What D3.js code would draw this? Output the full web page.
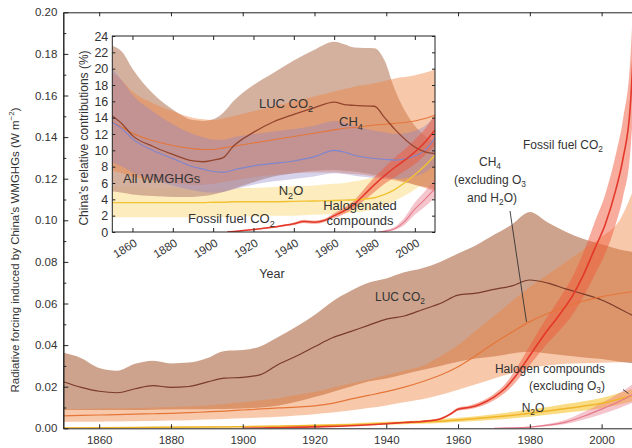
<!DOCTYPE html>
<html>
<head>
<meta charset="utf-8">
<script src="https://cdn.jsdelivr.net/npm/d3@7"></script>
<style>
  body { margin: 0; background: #fff; }
  svg { display: block; font-family: "Liberation Sans", Arial, sans-serif; }
</style>
</head>
<body>
<script>
// ---------- main panel data (W m-2) ----------
const mainYears = [1850,1855,1860,1865,1870,1875,1880,1885,1890,1895,1900,1905,1910,1915,1920,1925,1930,
                   1935,1940,1945,1950,1955,1960,1965,1970,1975,1980,1985,1990,1995,2000,2005,2010];
const lucMid = [.0224,.0197,.0178,.0171,.0190,.0205,.0197,.0201,.0222,.0241,.0245,.0258,.0308,.0348,.0392,.0435,.0465,
                .0495,.0525,.0540,.0570,.0600,.0640,.0650,.0668,.0685,.0713,.0698,.0670,.0645,.0617,.0575,.0530];
const lucLo  = [.0088,.0088,.0088,.0088,.0088,.0089,.0090,.0091,.0092,.0093,.0095,.0100,.0110,.0128,.0150,.0175,.0200,
                .0225,.0240,.0260,.0280,.0300,.0320,.0335,.0345,.0360,.0368,.0360,.0350,.0340,.0333,.0320,.0310];
const lucHi  = [.0364,.0337,.0290,.0277,.0310,.0325,.0312,.0316,.0337,.0372,.0376,.0395,.0440,.0490,.0545,.0610,.0660,
                .0700,.0720,.0750,.0770,.0800,.0840,.0880,.0930,.0980,.1040,.0990,.0945,.0910,.0885,.0860,.0845];
const ch4Mid = [.0060,.0062,.0064,.0066,.0068,.0070,.0072,.0075,.0079,.0083,.0088,.0093,.0098,.0102,.0108,.0120,.0140,
                .0158,.0176,.0198,.0224,.0255,.0296,.0350,.0409,.0462,.0513,.0552,.0585,.0612,.0633,.0648,.0660];
const ch4Lo  = [.0030,.0031,.0032,.0033,.0034,.0035,.0037,.0039,.0042,.0045,.0048,.0052,.0056,.0062,.0068,.0076,.0085,
                .0097,.0110,.0125,.0140,.0160,.0185,.0212,.0240,.0265,.0290,.0302,.0310,.0313,.0315,.0318,.0320];
const ch4Hi  = [.0092,.0093,.0095,.0096,.0098,.0100,.0102,.0106,.0110,.0117,.0125,.0135,.0145,.0160,.0175,.0195,.0215,
                .0235,.0255,.0278,.0300,.0345,.0400,.0470,.0540,.0610,.0680,.0740,.0800,.0860,.0920,.1000,.1200];

const ffYears = [1900,1905,1910,1920,1930,1940,1945,1950,1955,1958,1960,1963,1966,1970,1973,1976,1980,1984,
                 1988,1992,1995,1998,2001,2004,2006,2008,2009,2010];
const ffMid = [0,.0001,.0003,.0007,.0012,.0022,.0028,.0033,.0045,.0070,.0092,.0100,.0115,.0150,.0190,.0250,.0350,.0450,
               .0540,.0640,.0740,.0860,.0980,.1150,.1300,.1550,.1900,.2500];
const ffLo  = [0,.0001,.0002,.0006,.0011,.0020,.0026,.0030,.0041,.0064,.0084,.0091,.0104,.0135,.0170,.0220,.0305,.0390,
               .0465,.0550,.0635,.0735,.0840,.0985,.1115,.1330,.1630,.2150];
const ffHi  = [0,.0002,.0004,.0008,.0013,.0024,.0030,.0036,.0049,.0076,.0100,.0109,.0126,.0165,.0210,.0282,.0397,.0512,
               .0617,.0732,.0848,.0987,.1124,.1320,.1490,.1775,.2180,.2870];

const n2oYears = [1850,1870,1890,1900,1910,1920,1930,1940,1950,1960,1970,1980,1990,2000,2010];
const n2oMid = [.0002,.0004,.0006,.0008,.0010,.0013,.0017,.0024,.0030,.0040,.0054,.0072,.0095,.0120,.0165];
const n2oLo  = [.0001,.0002,.0004,.0005,.0007,.0009,.0012,.0017,.0022,.0030,.0041,.0056,.0075,.0096,.0135];
const n2oHi  = [.0004,.0006,.0009,.0011,.0014,.0018,.0023,.0031,.0039,.0051,.0068,.0090,.0117,.0146,.0198];

const halYears = [1970,1975,1980,1985,1990,1995,2000,2005,2010];
const halMid = [0,.0002,.0006,.0015,.0030,.0058,.0092,.0130,.0175];
const halLo  = [0,.0001,.0004,.0010,.0021,.0042,.0068,.0098,.0133];
const halHi  = [0,.0003,.0009,.0021,.0041,.0078,.0122,.0170,.0228];

// ---------- inset data (% of global) ----------
const inYears = [1850,1855,1860,1870,1880,1890,1895,1900,1905,1910,1920,1930,1940,1950,1960,1965,1970,1980,1985,1990,2000,2005,2010];
const inLucMid = [14.2,13.2,11.8,10.5,9.5,8.7,8.6,8.8,9.1,10.5,12.2,13.5,14.4,15.2,15.9,15.6,15.5,15.4,14.0,12.6,10.4,9.8,9.6];
const inLucHi  = [22.8,22.0,20.0,17.0,15.0,13.7,13.6,13.8,14.6,16.0,18.0,19.5,21.0,22.3,23.3,23.0,22.6,22.5,21.0,17.5,13.0,11.8,11.0];
const inLucLo  = [5.0,4.8,4.6,4.4,4.3,4.3,4.4,4.6,4.9,5.3,6.1,6.8,7.2,7.5,7.6,7.5,7.4,7.0,6.8,6.5,5.8,5.5,5.2];
const inCh4Mid = [13.5,12.8,12.1,11.2,10.6,10.2,10.1,10.1,10.3,10.5,10.9,11.3,11.7,12.1,12.5,12.7,12.8,13.1,13.2,13.3,13.6,13.9,14.3];
const inCh4Hi  = [19.5,18.5,17.2,15.8,14.8,14.0,13.8,13.7,13.9,14.2,14.8,15.4,16.0,16.6,17.2,17.5,17.8,18.2,18.5,18.8,19.2,19.5,19.9];
const inCh4Lo  = [7.5,7.2,6.8,6.3,6.0,5.8,5.8,5.9,6.1,6.3,6.7,7.0,7.2,7.3,7.3,7.2,7.1,6.8,6.6,6.3,5.8,5.4,5.0];
const inAllMid = [13.4,12.6,11.4,10.0,9.0,8.0,7.7,7.4,7.3,7.6,8.1,8.4,8.7,9.2,10.0,9.8,9.4,9.0,8.9,8.8,9.3,10.0,11.5];
const inAllHi  = [20.0,18.5,16.8,14.8,13.2,12.0,11.6,11.3,11.3,11.6,12.0,12.3,12.6,13.0,13.6,13.4,13.0,12.4,12.2,12.0,12.4,13.0,14.2];
const inAllLo  = [8.5,8.0,7.3,6.4,5.7,5.1,4.9,4.8,4.9,5.2,5.8,6.2,6.5,6.8,7.2,7.1,6.9,6.6,6.5,6.5,6.8,7.3,8.2];
const inN2oMid = [3.6,3.6,3.6,3.6,3.6,3.6,3.6,3.65,3.65,3.7,3.7,3.7,3.75,3.8,3.85,3.9,3.95,4.2,4.6,5.2,7.0,8.1,9.4];
const inN2oHi  = [5.6,5.5,5.5,5.4,5.4,5.3,5.3,5.3,5.3,5.4,5.4,5.5,5.6,5.7,5.9,6.0,6.2,6.8,7.4,8.1,9.6,10.5,11.5];
const inN2oLo  = [1.8,1.8,1.8,1.8,1.8,1.8,1.8,1.8,1.8,1.9,1.9,2.0,2.0,2.1,2.2,2.3,2.4,2.8,3.2,3.8,5.2,6.1,7.2];

const inFfYears = [1907,1910,1920,1930,1940,1945,1950,1955,1960,1965,1970,1975,1980,1985,1990,1995,2000,2005,2010];
const inFfMid = [0,0.05,0.3,0.6,1.0,1.3,1.2,1.4,2.0,2.6,3.4,4.6,5.8,6.9,7.9,8.8,9.8,11.0,12.5];
const inFfLo  = [0,0.03,0.25,0.5,0.85,1.1,1.0,1.2,1.7,2.2,2.9,3.9,4.9,5.9,6.7,7.5,8.3,9.4,10.6];
const inFfHi  = [0,0.07,0.35,0.7,1.15,1.5,1.4,1.6,2.3,3.0,3.9,5.3,6.7,7.9,9.1,10.1,11.3,12.6,14.4];

const inHalYears = [1982,1985,1990,1995,2000,2005,2010];
const inHalMid = [0,0.1,0.4,1.3,2.8,4.0,5.3];
const inHalLo  = [0,0.05,0.25,0.9,2.1,3.1,4.2];
const inHalHi  = [0,0.2,0.6,1.8,3.6,5.0,6.5];

const mainXTicks = [1860,1880,1900,1920,1940,1960,1980,2000];
const mainYTicks = [0,0.02,0.04,0.06,0.08,0.10,0.12,0.14,0.16,0.18,0.20];
const inYTicks = [0,2,4,6,8,10,12,14,16,18,20,22,24];

// ---------- set up ----------
const W = 632, H = 448;
const svg = d3.select("body").append("svg").attr("width", W).attr("height", H);

const mx = d3.scaleLinear().domain([1850, 2010]).range([63.3, 637.5]);
const my = d3.scaleLinear().domain([0, 0.2]).range([428.3, 12.3]);
const ix = d3.scaleLinear().domain([1850, 2010]).range([112.3, 435]);
const iy = d3.scaleLinear().domain([0, 24]).range([232, 36]);

const zip = (ys, mid, lo, hi) => ys.map((yr, i) => ({yr, mid: mid[i], lo: lo[i], hi: hi[i]}));

const defs = svg.append("defs");
defs.append("clipPath").attr("id", "clipMain").append("rect")
  .attr("x", mx.range()[0]).attr("y", my.range()[1])
  .attr("width", mx.range()[1] - mx.range()[0]).attr("height", my.range()[0] - my.range()[1]);
defs.append("clipPath").attr("id", "clipIn").append("rect")
  .attr("x", ix.range()[0]).attr("y", iy.range()[1])
  .attr("width", ix.range()[1] - ix.range()[0]).attr("height", iy.range()[0] - iy.range()[1]);

function drawBand(g, x, y, data, fill, op) {
  g.append("path").datum(data)
    .attr("fill", fill).attr("fill-opacity", op)
    .attr("d", d3.area().x(d => x(d.yr)).y0(d => y(d.lo)).y1(d => y(d.hi)).curve(d3.curveMonotoneX));
}
function drawLine(g, x, y, data, stroke, w) {
  g.append("path").datum(data)
    .attr("fill", "none").attr("stroke", stroke).attr("stroke-width", w)
    .attr("d", d3.line().x(d => x(d.yr)).y(d => y(d.mid)).curve(d3.curveMonotoneX));
}
// text with sub/superscripts: parts = [[text, ""|"sub"|"sup"], ...]
function rich(g, x, y, parts, size, anchor) {
  const t = g.append("text").attr("x", x).attr("y", y)
    .attr("text-anchor", anchor || "start")
    .style("font-size", size + "px").attr("fill", "#333");
  let shift = 0;
  parts.forEach(([s, k]) => {
    const target = k === "sub" ? 0.28 * size : k === "sup" ? -0.4 * size : 0;
    t.append("tspan").attr("dy", target - shift)
      .style("font-size", k ? (0.7 * size) + "px" : null).text(s);
    shift = target;
  });
  return t;
}

// ---------- main panel ----------
const luc = zip(mainYears, lucMid, lucLo, lucHi);
const ch4 = zip(mainYears, ch4Mid, ch4Lo, ch4Hi);
const ff = zip(ffYears, ffMid, ffLo, ffHi);
const n2o = zip(n2oYears, n2oMid, n2oLo, n2oHi);
const hal = zip(halYears, halMid, halLo, halHi);

const gm = svg.append("g").attr("clip-path", "url(#clipMain)");
drawBand(gm, mx, my, luc, "rgb(205,163,141)", 1);
drawBand(gm, mx, my, ch4, "rgb(239,133,66)", 0.45);
drawBand(gm, mx, my, n2o, "rgb(248,205,80)", 0.7);
drawBand(gm, mx, my, hal, "rgb(230,110,130)", 0.4);
drawBand(gm, mx, my, ff, "rgb(240,90,60)", 0.5);
drawLine(gm, mx, my, luc, "#7a3b2b", 1.2);
drawLine(gm, mx, my, ch4, "#e5763a", 1.2);
drawLine(gm, mx, my, n2o, "#f0b52a", 1.5);
drawLine(gm, mx, my, hal, "#e57a8a", 1.2);
drawLine(gm, mx, my, ff, "#e3382a", 1.6);

// main axes
const axisStyle = sel => {
  sel.selectAll("path, line").attr("stroke", "#222");
  sel.selectAll("text").attr("fill", "#333").style("font-size", "11.5px")
    .style("font-family", "Liberation Sans, Arial, sans-serif");
};
svg.append("g").attr("transform", `translate(0,${my(0)})`)
  .call(d3.axisBottom(mx).tickValues(mainXTicks).tickFormat(d3.format("d"))
    .tickSize(-4).tickSizeOuter(0).tickPadding(8))
  .call(axisStyle);
svg.append("g").attr("transform", `translate(0,${my(0.2)})`)
  .call(d3.axisTop(mx).tickValues(mainXTicks).tickFormat("").tickSize(-4).tickSizeOuter(0))
  .call(axisStyle);
svg.append("g").attr("transform", `translate(${mx(1850)},0)`)
  .call(d3.axisLeft(my).tickValues(mainYTicks).tickFormat(d3.format(".2f"))
    .tickSize(-5).tickSizeOuter(0).tickPadding(6))
  .call(axisStyle);
svg.append("g").attr("transform", `translate(${mx(1850)},0)`)
  .call(d3.axisLeft(my).tickValues(d3.range(0.01, 0.2, 0.02)).tickFormat("")
    .tickSize(-3).tickSizeOuter(0))
  .call(axisStyle);

// main y label
rich(svg, 0, 0, [["Radiative forcing induced by China\u2019s WMGHGs (W m", ""], ["\u22122", "sup"], [")", ""]], 11.5, "middle")
  .attr("transform", "translate(19,250) rotate(-90)");

// main annotations
rich(svg, 400, 301, [["LUC CO", ""], ["2", "sub"]], 12, "middle");
rich(svg, 563, 149, [["Fossil fuel CO", ""], ["2", "sub"]], 12, "middle");
rich(svg, 490, 166, [["CH", ""], ["4", "sub"]], 12, "middle");
rich(svg, 490, 184, [["(excluding O", ""], ["3", "sub"]], 12, "middle");
rich(svg, 492, 202, [["and H", ""], ["2", "sub"], ["O)", ""]], 12, "middle");
rich(svg, 605, 373, [["Halogen compounds", ""]], 12, "end");
rich(svg, 605, 390, [["(excluding O", ""], ["3", "sub"], [")", ""]], 12, "end");
rich(svg, 533, 412, [["N", ""], ["2", "sub"], ["O", ""]], 12, "middle");
svg.append("line").attr("x1", 510).attr("y1", 211).attr("x2", 526.5).attr("y2", 322)
  .attr("stroke", "#333").attr("stroke-width", 0.9);
svg.append("line").attr("x1", 623).attr("y1", 389.5).attr("x2", 628.5).attr("y2", 393.5)
  .attr("stroke", "#333").attr("stroke-width", 0.9);

// ---------- inset ----------
svg.append("rect").attr("x", ix.range()[0]).attr("y", iy.range()[1])
  .attr("width", ix.range()[1] - ix.range()[0]).attr("height", iy.range()[0] - iy.range()[1])
  .attr("fill", "#fff");

const iLuc = zip(inYears, inLucMid, inLucLo, inLucHi);
const iCh4 = zip(inYears, inCh4Mid, inCh4Lo, inCh4Hi);
const iAll = zip(inYears, inAllMid, inAllLo, inAllHi);
const iN2o = zip(inYears, inN2oMid, inN2oLo, inN2oHi);
const iFf = zip(inFfYears, inFfMid, inFfLo, inFfHi);
const iHal = zip(inHalYears, inHalMid, inHalLo, inHalHi);

const gi = svg.append("g").attr("clip-path", "url(#clipIn)");
drawBand(gi, ix, iy, iN2o, "rgb(250,212,100)", 0.42);
drawBand(gi, ix, iy, iLuc, "rgb(205,163,141)", 0.85);
drawBand(gi, ix, iy, iCh4, "rgb(239,133,66)", 0.45);
drawBand(gi, ix, iy, iAll, "rgb(140,125,200)", 0.35);
drawBand(gi, ix, iy, iHal, "rgb(230,110,130)", 0.4);
drawBand(gi, ix, iy, iFf, "rgb(240,90,60)", 0.5);
drawLine(gi, ix, iy, iN2o, "#f2c232", 1.4);
drawLine(gi, ix, iy, iCh4, "#e5763a", 1.1);
drawLine(gi, ix, iy, iAll, "#7d86cf", 1.1);
drawLine(gi, ix, iy, iLuc, "#93452e", 1.3);
drawLine(gi, ix, iy, iHal, "#e57a8a", 1.1);
drawLine(gi, ix, iy, iFf, "#e3382a", 1.5);

svg.append("rect").attr("x", ix.range()[0]).attr("y", iy.range()[1])
  .attr("width", ix.range()[1] - ix.range()[0]).attr("height", iy.range()[0] - iy.range()[1])
  .attr("fill", "none").attr("stroke", "#222").attr("stroke-width", 1);

const inXAxis = svg.append("g").attr("transform", `translate(0,${iy(0)})`)
  .call(d3.axisBottom(ix).tickValues(mainXTicks).tickFormat(d3.format("d")).tickSize(-4).tickSizeOuter(0))
  .call(axisStyle);
inXAxis.select(".domain").remove();
inXAxis.selectAll("text")
  .attr("text-anchor", "end").attr("dy", null).attr("y", 0)
  .attr("transform", "translate(5,13) rotate(-32)");
svg.append("g").attr("transform", `translate(0,${iy(24)})`)
  .call(d3.axisTop(ix).tickValues(mainXTicks).tickFormat("").tickSize(-4).tickSizeOuter(0))
  .call(axisStyle).select(".domain").remove();
svg.append("g").attr("transform", `translate(${ix(1850)},0)`)
  .call(d3.axisLeft(iy).tickValues(inYTicks).tickSize(-3).tickSizeOuter(0).tickPadding(4))
  .call(axisStyle)
  .call(g => g.selectAll("text").style("font-size", "12.5px"))
  .select(".domain").remove();
svg.append("g").attr("transform", `translate(${ix(2010)},0)`)
  .call(d3.axisRight(iy).tickValues(inYTicks).tickFormat("").tickSize(-3).tickSizeOuter(0))
  .call(axisStyle).select(".domain").remove();

rich(svg, 0, 0, [["China\u2019s relative contributions (%)", ""]], 12, "middle")
  .attr("transform", "translate(88,138) rotate(-90)");
rich(svg, 272, 278, [["Year", ""]], 12.5, "middle");

// inset annotations
rich(svg, 286, 108, [["LUC CO", ""], ["2", "sub"]], 13, "middle");
rich(svg, 351, 126, [["CH", ""], ["4", "sub"]], 13, "middle");
rich(svg, 123, 183, [["All WMGHGs", ""]], 13, "start");
rich(svg, 291, 195, [["N", ""], ["2", "sub"], ["O", ""]], 13, "middle");
rich(svg, 188, 223, [["Fossil fuel CO", ""], ["2", "sub"]], 13, "start");
rich(svg, 360, 209.5, [["Halogenated", ""]], 13, "middle");
rich(svg, 360, 224.5, [["compounds", ""]], 13, "middle");
</script>
</body>
</html>
